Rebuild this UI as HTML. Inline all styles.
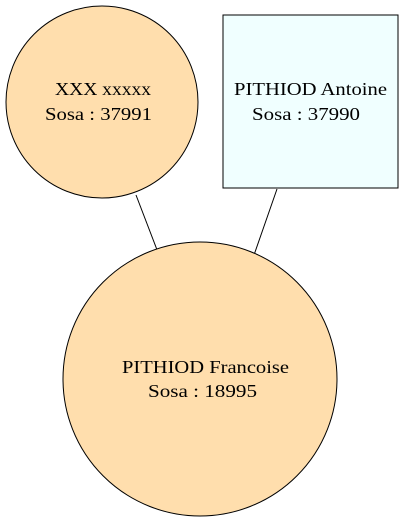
<!DOCTYPE html>
<html><head><style>html,body{margin:0;padding:0;background:#fff;}</style></head>
<body>
<svg width="403" height="521" viewBox="0 0 403 521" xmlns="http://www.w3.org/2000/svg" font-family="Liberation Serif, serif" font-size="18">
<rect width="403" height="521" fill="#fff"/>
<line x1="136" y1="195" x2="159" y2="255" stroke="#000"/>
<line x1="277" y1="189" x2="254" y2="255" stroke="#000"/>
<circle cx="102" cy="102" r="96" fill="#ffdead" stroke="#000"/>
<rect x="223" y="15" width="175" height="173" fill="#f0ffff" stroke="#000"/>
<circle cx="200" cy="379" r="137" fill="#ffdead" stroke="#000"/>
<text x="55" y="95" textLength="96" lengthAdjust="spacingAndGlyphs">XXX xxxxx</text>
<text x="45" y="120" textLength="107" lengthAdjust="spacingAndGlyphs">Sosa : 37991</text>
<text x="234" y="95" textLength="153" lengthAdjust="spacingAndGlyphs">PITHIOD Antoine</text>
<text x="252" y="120" textLength="108" lengthAdjust="spacingAndGlyphs">Sosa : 37990</text>
<text x="122" y="373" textLength="167" lengthAdjust="spacingAndGlyphs">PITHIOD Francoise</text>
<text x="148" y="397" textLength="109" lengthAdjust="spacingAndGlyphs">Sosa : 18995</text>
</svg>
</body></html>
